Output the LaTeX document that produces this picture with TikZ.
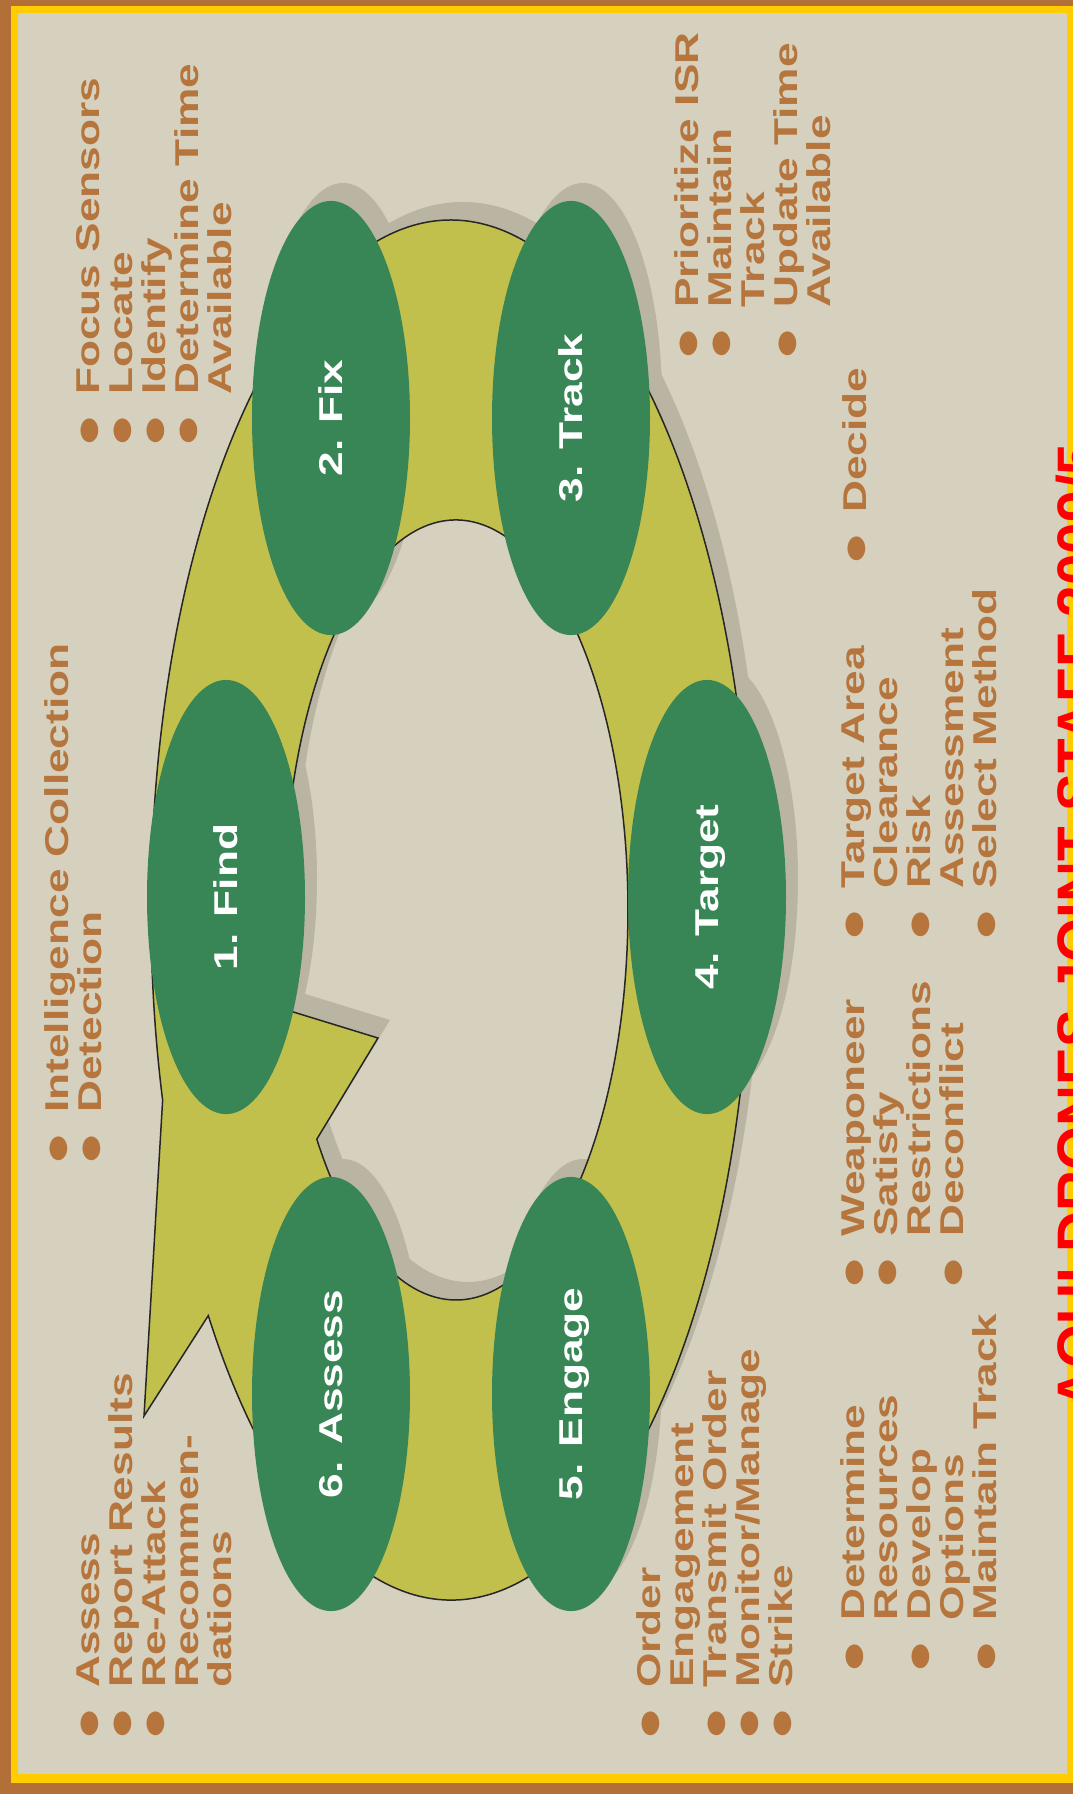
\documentclass[tikz,border=0pt]{standalone}
\usepackage{fontspec}
\setmainfont{Liberation Sans}
\usetikzlibrary{shapes.geometric}
\definecolor{paper}{HTML}{D6D1BE}
\definecolor{frame}{HTML}{B27038}
\definecolor{gold}{HTML}{FFCC00}
\definecolor{olive}{HTML}{C2C04C}
\definecolor{leaf}{HTML}{388656}
\definecolor{shadowc}{HTML}{BAB5A2}
\definecolor{ink}{HTML}{B5753C}
\newcommand{\bul}{\makebox[1.2em][l]{\raisebox{-0.06em}{\scalebox{1.25}{●}}}}
\newcommand{\cnt}{\hspace*{1.2em}}
% ring with the arrow head, hole cut out
\newcommand{\ringpath}{(144,-1416) -- (208.3,-1315.6)
  arc[start angle=216, end angle=556, x radius=300, y radius=690] -- cycle
  (316.8,-1139.2) arc[start angle=216, end angle=555, x radius=172, y radius=390]
  -- (378,-1038) -- cycle}
\begin{document}
\begin{tikzpicture}[x=1pt,y=1pt,
  stepnode/.style={ellipse, fill=leaf, text=white, font=\bfseries\fontsize{33}{33}\selectfont,
    rotate=90, xscale=1.34, minimum width=324pt, minimum height=158pt, inner sep=0pt,
    text height=23.6pt, text depth=0pt},
  duties/.style={rotate=90, xscale=1.34, anchor=north west, align=left, inner sep=0pt,
    text=ink, font=\bfseries\fontsize{33}{33}\selectfont}]
\useasboundingbox (0,0) rectangle (1073,-1794);
\clip (0,0) rectangle (1073,-1794);
% frame
\fill[frame] (0,0) rectangle (1073,-1794);
\fill[gold] (11,-6) rectangle (1080,-1783);
\fill[paper] (18,-13) rectangle (1067,-1774);
% shadows
\begin{scope}[shift={(12,18)}]
\fill[shadowc, even odd rule] \ringpath;
\foreach \px/\py in {226/897, 331/418, 571/418, 707/897, 571/1394, 331/1394}
  \fill[shadowc] (\px,-\py) ellipse[x radius=79, y radius=217];
\end{scope}
% ring
\filldraw[fill=olive, draw=black!85, line width=1.5pt, even odd rule] \ringpath;
% steps
\foreach \nm/\px/\py/\lbl in {find/226/897/1. Find, fix/331/418/2. Fix,
    track/571/418/3. Track, target/707/897/4. Target,
    engage/571/1394/5. Engage, assess/331/1394/6. Assess}
  \node[stepnode] (\nm) at (\px,-\py) {\lbl};
% lists
\node[duties] (fixlist) at (74,-448) {\rule{0pt}{25pt}\bul Focus Sensors\\\bul Locate\\\bul Identify\\\bul Determine Time\\\cnt Available};
\node[duties] (tracklist) at (673,-361) {\rule{0pt}{25pt}\bul Prioritize ISR\\\bul Maintain\\\cnt Track\\\bul Update Time\\\cnt Available};
\node[duties] (decide) at (841,-566) {\rule{0pt}{25pt}\bul Decide};
\node[duties] (findlist) at (43,-1166) {\rule{0pt}{25pt}\bul Intelligence Collection\\\bul Detection};
\node[duties] (targetlist) at (839,-942) {\rule{0pt}{25pt}\bul Target Area\\\cnt Clearance\\\bul Risk\\\cnt Assessment\\\bul Select Method};
\node[duties] (weaponlist) at (839,-1290) {\rule{0pt}{25pt}\bul Weaponeer\\\bul Satisfy\\\cnt Restrictions\\\bul Deconflict};
\node[duties] (resourcelist) at (839,-1674) {\rule{0pt}{25pt}\bul Determine\\\cnt Resources\\\bul Develop\\\cnt Options\\\bul Maintain Track};
\node[duties] (assesslist) at (74,-1741) {\rule{0pt}{25pt}\bul Assess\\\bul Report Results\\\bul Re-Attack\\\cnt Recommen-\\\cnt dations};
\node[duties] (engagelist) at (635,-1741) {\rule{0pt}{25pt}\bul Order\\\cnt Engagement\\\bul Transmit Order\\\bul Monitor/Manage\\\bul Strike};
% red stamp on the edge
\node[rotate=90, xscale=0.945, anchor=north west, inner sep=0pt, text=red,
  font=\bfseries\fontsize{60}{60}\selectfont, text height=43pt, text depth=0pt]
  (stamp) at (1056,-1410) {AQUI DRONES JOINT STAFF 2009/5};
\end{tikzpicture}
\end{document}
